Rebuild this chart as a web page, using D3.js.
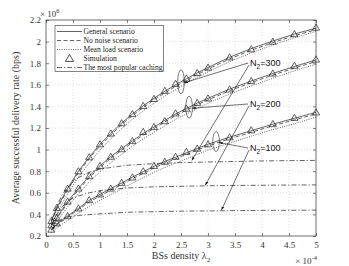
<!DOCTYPE html>
<html><head><meta charset="utf-8">
<script src="https://cdn.jsdelivr.net/npm/d3@7"></script>
<style>body{margin:0;background:#fff}svg{display:block}</style>
</head><body>
<script>
// ---- data ----
const lambdaX = [0.1,0.2,0.4,0.6,0.8,1.0,1.2,1.4,1.6,1.8,2.0,2.2,2.4,2.6,2.8,3.0,3.4,3.8,4.2,4.6,5.0];
const general300 = [0.34,0.46,0.64,0.80,0.93,1.05,1.15,1.245,1.33,1.405,1.475,1.54,1.60,1.655,1.71,1.76,1.855,1.935,2.005,2.07,2.125];
const noNoise300 = [0.33,0.45,0.625,0.785,0.915,1.035,1.135,1.23,1.315,1.39,1.46,1.525,1.585,1.64,1.695,1.745,1.84,1.92,1.99,2.055,2.11];
const meanLoad300 = [0.30,0.41,0.59,0.745,0.875,0.995,1.10,1.195,1.28,1.36,1.43,1.495,1.555,1.615,1.67,1.72,1.815,1.895,1.97,2.035,2.095];
const general200 = [0.30,0.37,0.52,0.64,0.755,0.85,0.935,1.01,1.08,1.15,1.21,1.27,1.33,1.38,1.43,1.475,1.56,1.635,1.705,1.77,1.83];
const noNoise200 = [0.29,0.36,0.505,0.625,0.74,0.835,0.92,0.995,1.065,1.135,1.195,1.255,1.315,1.365,1.415,1.46,1.545,1.62,1.69,1.755,1.815];
const meanLoad200 = [0.26,0.33,0.47,0.59,0.70,0.795,0.88,0.955,1.03,1.10,1.16,1.22,1.28,1.33,1.38,1.43,1.515,1.59,1.66,1.73,1.79];
const general100 = [0.26,0.31,0.385,0.455,0.53,0.585,0.64,0.69,0.745,0.795,0.845,0.89,0.93,0.97,1.01,1.05,1.115,1.175,1.235,1.29,1.345];
const noNoise100 = [0.25,0.30,0.375,0.445,0.515,0.57,0.625,0.675,0.73,0.78,0.83,0.875,0.915,0.955,0.995,1.035,1.10,1.16,1.22,1.275,1.33];
const meanLoad100 = [0.23,0.275,0.345,0.41,0.475,0.53,0.585,0.635,0.69,0.74,0.79,0.835,0.875,0.915,0.955,0.995,1.06,1.125,1.185,1.24,1.30];
const sim300 = [0.34,0.46,0.64,0.80,0.93,1.05,1.15,1.245,1.33,1.405,1.47,1.545,1.61,1.66,1.71,1.76,1.855,1.93,2.0,2.07,2.13];
const sim200 = [0.30,0.37,0.52,0.64,0.755,0.85,0.935,1.005,1.08,1.165,1.21,1.265,1.336,1.38,1.434,1.475,1.558,1.635,1.706,1.777,1.835];
const sim100 = [0.26,0.318,0.385,0.456,0.533,0.586,0.64,0.693,0.743,0.80,0.85,0.888,0.934,0.98,1.01,1.05,1.114,1.18,1.237,1.295,1.345];
const popX = [0.1,0.2,0.3,0.4,0.5,0.6,0.8,1.0,1.5,2.0,2.5,3.0,3.5,4.0,4.5,5.0];
const popular300 = [0.34,0.48,0.58,0.65,0.70,0.74,0.79,0.82,0.855,0.87,0.88,0.885,0.89,0.895,0.898,0.90];
const popular200 = [0.30,0.40,0.47,0.52,0.55,0.57,0.60,0.62,0.645,0.655,0.66,0.665,0.668,0.67,0.672,0.673];
const popular100 = [0.26,0.32,0.355,0.375,0.385,0.39,0.398,0.405,0.42,0.425,0.43,0.432,0.435,0.437,0.438,0.44];
const xTicks = [0,0.5,1,1.5,2,2.5,3,3.5,4,4.5,5];
const yTicks = [0.2,0.4,0.6,0.8,1.0,1.2,1.4,1.6,1.8,2.0,2.2];
const legendLabels = ["General scenario","No noise scenario","Mean load scenario","Simulation","The most popular caching"];
const groupLabels = ["300","200","100"];

// ---- layout ----
const W=349,H=266, L=46,R=316,T=20,B=236;
const serif="'Liberation Serif','Times New Roman',serif";
const svg=d3.select("body").append("svg").attr("width",W).attr("height",H);
const x=d3.scaleLinear().domain([0,5]).range([L,R]);
const y=d3.scaleLinear().domain([0.2,2.2]).range([B,T]);

// grid
const g=svg.append("g");
g.selectAll(".gx").data(xTicks.slice(1,-1)).enter().append("line")
 .attr("x1",d=>x(d)).attr("x2",d=>x(d)).attr("y1",T).attr("y2",B)
 .attr("stroke","#c8c8c8").attr("stroke-width",0.6).attr("stroke-dasharray","1,2");
g.selectAll(".gy").data(yTicks.slice(1,-1)).enter().append("line")
 .attr("y1",d=>y(d)).attr("y2",d=>y(d)).attr("x1",L).attr("x2",R)
 .attr("stroke","#c8c8c8").attr("stroke-width",0.6).attr("stroke-dasharray","1,2");

// axes
function styleAxis(sel){sel.select(".domain").remove();sel.selectAll("line").attr("stroke","#333").attr("stroke-width",0.6);
 sel.selectAll("text").attr("font-family",serif).attr("font-size","9px").attr("fill","#333");}
const fmt=d=>String(+d.toFixed(1));
svg.append("g").attr("transform",`translate(0,${B})`).call(d3.axisBottom(x).tickValues(xTicks).tickSize(-3).tickPadding(6).tickFormat(fmt)).call(styleAxis);
svg.append("g").attr("transform",`translate(0,${T})`).call(d3.axisTop(x).tickValues(xTicks).tickSize(-3).tickFormat("")).call(styleAxis);
svg.append("g").attr("transform",`translate(${L},0)`).call(d3.axisLeft(y).tickValues(yTicks).tickSize(-3).tickPadding(5).tickFormat(fmt)).call(styleAxis);
svg.append("g").attr("transform",`translate(${R},0)`).call(d3.axisRight(y).tickValues(yTicks).tickSize(-3).tickFormat("")).call(styleAxis);
svg.append("rect").attr("x",L).attr("y",T).attr("width",R-L).attr("height",B-T).attr("fill","none").attr("stroke","#333").attr("stroke-width",0.7);

// series
const line=d3.line().x(d=>x(d[0])).y(d=>y(d[1]));
const styles={general:null,noNoise:"4,2.5",meanLoad:"1,1.3",popular:"5,2,1.2,2"};
function draw(xs,ys,dash){svg.append("path").datum(xs.map((v,i)=>[v,ys[i]])).attr("d",line)
 .attr("fill","none").attr("stroke","#222").attr("stroke-width",0.7).attr("stroke-dasharray",dash);}
[[general300,noNoise300,meanLoad300,popular300],[general200,noNoise200,meanLoad200,popular200],[general100,noNoise100,meanLoad100,popular100]].forEach(s=>{
 draw(lambdaX,s[2],styles.meanLoad);draw(lambdaX,s[1],styles.noNoise);draw(lambdaX,s[0],styles.general);draw(popX,s[3],styles.popular);
});
const tri=d3.symbol().type(d3.symbolTriangle).size(22);
[sim300,sim200,sim100].forEach(s=>{
 svg.append("g").selectAll("path").data(lambdaX.map((v,i)=>[v,s[i]])).enter().append("path")
  .attr("d",tri).attr("transform",d=>`translate(${x(d[0])},${y(d[1])+0.6})`)
  .attr("fill","none").attr("stroke","#222").attr("stroke-width",0.7);
});

// annotations
const defs=svg.append("defs");
defs.append("marker").attr("id","ah").attr("viewBox","0 0 10 10").attr("refX",10).attr("refY",5)
 .attr("markerWidth",6).attr("markerHeight",6).attr("orient","auto")
 .append("path").attr("d","M0,1.5L10,5L0,8.5z").attr("fill","#111");
// annotation anchors placed at data points (ellipse on curve, arrow to popular caching line)
const ann=[
 {lab:groupLabels[0],ex:2.50,ey:general300,pop:popular300,tx:250,ty:66,ax:2.7,arY:0.90, ry:12},
 {lab:groupLabels[1],ex:2.65,ey:general200,pop:popular200,tx:250,ty:107,ax:2.95,arY:0.67, ry:11},
 {lab:groupLabels[2],ex:3.15,ey:general100,pop:popular100,tx:250,ty:151,ax:3.25,arY:0.44, ry:10}
];
ann.forEach(a=>{
 const ix=d3.bisector(d=>d).left(lambdaX,a.ex);
 const t=(a.ex-lambdaX[ix-1])/(lambdaX[ix]-lambdaX[ix-1]);
 const cyv=a.ey[ix-1]+(a.ey[ix]-a.ey[ix-1])*t;
 const cx=x(a.ex), cy=y(cyv);
 svg.append("ellipse").attr("cx",cx).attr("cy",cy).attr("rx",3.3).attr("ry",a.ry).attr("fill","none").attr("stroke","#222").attr("stroke-width",0.6);
 svg.append("line").attr("x1",a.tx-2).attr("y1",a.ty-3).attr("x2",cx+3).attr("y2",cy+1)
  .attr("stroke","#111").attr("stroke-width",0.6).attr("marker-end","url(#ah)");
 svg.append("line").attr("x1",a.tx-1).attr("y1",a.ty-1).attr("x2",x(a.ax)).attr("y2",y(a.arY))
  .attr("stroke","#111").attr("stroke-width",0.6).attr("marker-end","url(#ah)");
 const tx=svg.append("text").attr("x",a.tx).attr("y",a.ty).attr("font-family","'Liberation Sans',Arial,sans-serif").attr("font-size","9px").attr("fill","#111");
 tx.append("tspan").text("N");
 tx.append("tspan").attr("font-size","6.5px").attr("dy",2.5).text("2");
 tx.append("tspan").attr("dy",-2.5).text("="+a.lab);
});

// legend
const lg=svg.append("g");
lg.append("rect").attr("x",55).attr("y",25.5).attr("width",108.5).attr("height",46).attr("fill","#fff").attr("stroke","#333").attr("stroke-width",0.6);
const rowY=[31.5,40.5,49.5,58.5,67.5];
const legDash=[styles.general,styles.noNoise,styles.meanLoad,null,styles.popular];
legendLabels.forEach((t,i)=>{
 if(i!==3) lg.append("line").attr("x1",57).attr("x2",82).attr("y1",rowY[i]).attr("y2",rowY[i]).attr("stroke","#222").attr("stroke-width",0.7).attr("stroke-dasharray",legDash[i]);
 else lg.append("path").attr("d",d3.symbol().type(d3.symbolTriangle).size(28)).attr("transform",`translate(69.5,${rowY[i]+0.6})`).attr("fill","none").attr("stroke","#222").attr("stroke-width",0.8);
 lg.append("text").attr("x",83.5).attr("y",rowY[i]+2.6).attr("font-family",serif).attr("font-size","7.6px").attr("fill","#222").text(t);
});

// axis titles
const yl=svg.append("text").attr("transform",`translate(19,${(T+B)/2}) rotate(-90)`).attr("text-anchor","middle")
 .attr("font-family",serif).attr("font-size","10px").attr("fill","#333").text("Average successful delivery rate (bps)");
const xl=svg.append("text").attr("x",181).attr("y",259).attr("text-anchor","middle").attr("font-family",serif).attr("font-size","10px").attr("fill","#333");
xl.append("tspan").text("BSs density λ");
xl.append("tspan").attr("font-size","7px").attr("dy",2.5).text("2");
const e6=svg.append("text").attr("x",40).attr("y",17).attr("font-family",serif).attr("font-size","9px").attr("fill","#333");
e6.append("tspan").text("× 10");
e6.append("tspan").attr("font-size","6.5px").attr("dy",-4).text("6");
const e4=svg.append("text").attr("x",317).attr("y",264).attr("text-anchor","end").attr("font-family",serif).attr("font-size","9px").attr("fill","#333");
e4.append("tspan").text("× 10");
e4.append("tspan").attr("font-size","6.5px").attr("dy",-4).text("-4");
</script>
</body></html>
